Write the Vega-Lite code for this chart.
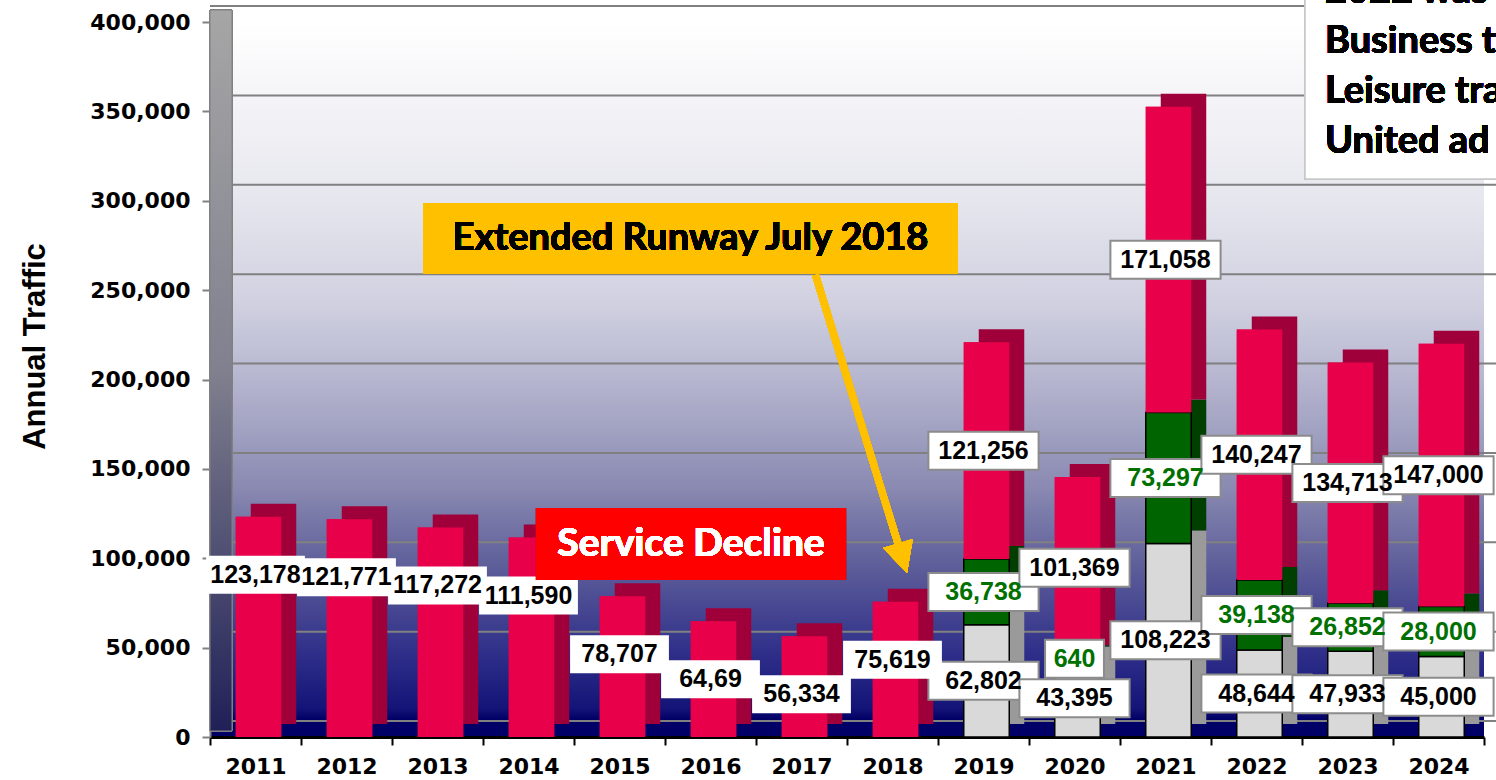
{
  "$schema": "https://vega.github.io/schema/vega-lite/v6.json",
  "width": 1274,
  "height": 715,
  "autosize": {"type": "none"},
  "padding": {"left": 210, "top": 22, "right": 12, "bottom": 43},
  "background": "#ffffff",
  "config": {
    "view": {
      "stroke": null,
      "fill": {
        "gradient": "linear", "x1": 0, "y1": 0, "x2": 0, "y2": 1,
        "stops": [
          {"offset": 0, "color": "#ffffff"},
          {"offset": 0.25, "color": "#e6e6ee"},
          {"offset": 0.4, "color": "#cfcfe0"},
          {"offset": 0.52, "color": "#b0b0cc"},
          {"offset": 0.65, "color": "#8a8ab2"},
          {"offset": 0.76, "color": "#5e5e9a"},
          {"offset": 0.88, "color": "#30308a"},
          {"offset": 0.96, "color": "#141478"},
          {"offset": 0.975, "color": "#000066"},
          {"offset": 1, "color": "#000066"}
        ]
      }
    }
  },
  "datasets": {
    "traffic": [
      {"year": "2011", "segment": "upper", "value": 123178, "label": "123,178"},
      {"year": "2012", "segment": "upper", "value": 121771, "label": "121,771"},
      {"year": "2013", "segment": "upper", "value": 117272, "label": "117,272"},
      {"year": "2014", "segment": "upper", "value": 111590, "label": "111,590"},
      {"year": "2015", "segment": "upper", "value": 78707, "label": "78,707"},
      {"year": "2016", "segment": "upper", "value": 64690, "label": "64,69"},
      {"year": "2017", "segment": "upper", "value": 56334, "label": "56,334"},
      {"year": "2018", "segment": "upper", "value": 75619, "label": "75,619"},
      {"year": "2019", "segment": "lower", "value": 62802, "label": "62,802"},
      {"year": "2019", "segment": "middle", "value": 36738, "label": "36,738"},
      {"year": "2019", "segment": "upper", "value": 121256, "label": "121,256"},
      {"year": "2020", "segment": "lower", "value": 43395, "label": "43,395"},
      {"year": "2020", "segment": "middle", "value": 640, "label": "640"},
      {"year": "2020", "segment": "upper", "value": 101369, "label": "101,369"},
      {"year": "2021", "segment": "lower", "value": 108223, "label": "108,223"},
      {"year": "2021", "segment": "middle", "value": 73297, "label": "73,297"},
      {"year": "2021", "segment": "upper", "value": 171058, "label": "171,058"},
      {"year": "2022", "segment": "lower", "value": 48644, "label": "48,644"},
      {"year": "2022", "segment": "middle", "value": 39138, "label": "39,138"},
      {"year": "2022", "segment": "upper", "value": 140247, "label": "140,247"},
      {"year": "2023", "segment": "lower", "value": 47933, "label": "47,933"},
      {"year": "2023", "segment": "middle", "value": 26852, "label": "26,852"},
      {"year": "2023", "segment": "upper", "value": 134713, "label": "134,713"},
      {"year": "2024", "segment": "lower", "value": 45000, "label": "45,000"},
      {"year": "2024", "segment": "middle", "value": 28000, "label": "28,000"},
      {"year": "2024", "segment": "upper", "value": 147000, "label": "147,000"}
    ],
    "grid": [
      {"tick": 0}, {"tick": 50000}, {"tick": 100000}, {"tick": 150000}, {"tick": 200000},
      {"tick": 250000}, {"tick": 300000}, {"tick": 350000}, {"tick": 400000}
    ]
  },
  "layer": [
    {
      "data": {"name": "traffic"},
      "mark": {"type": "bar", "width": {"band": 0.5}, "xOffset": 3, "stroke": "#000000", "opacity": 1},
      "encoding": {
        "x": {
          "field": "year", "type": "ordinal",
          "scale": {
            "domain": ["2011", "2012", "2013", "2014", "2015", "2016", "2017", "2018", "2019", "2020", "2021", "2022", "2023", "2024"],
            "paddingInner": 0, "paddingOuter": 0
          },
          "axis": {
            "title": null,
            "labelFont": "DejaVu Sans", "labelFontWeight": "bold", "labelFontSize": 22, "labelColor": "#000000",
            "labelPadding": 11, "labelAngle": 0,
            "tickBand": "extent", "tickSize": 8, "tickWidth": 2, "tickColor": "#000000",
            "domainColor": "#000000", "domainWidth": 3, "grid": false
          }
        },
        "y": {
          "field": "value", "type": "quantitative", "stack": "zero",
          "scale": {"domain": [0, 400000], "nice": false},
          "axis": {
            "title": "Annual Traffic",
            "titleFont": "Liberation Sans", "titleFontWeight": "bold", "titleFontSize": 31, "titleColor": "#000000",
            "titlePadding": 38, "titleY": 324,
            "values": [0, 50000, 100000, 150000, 200000, 250000, 300000, 350000, 400000],
            "format": ",d",
            "labelFont": "DejaVu Sans", "labelFontWeight": "bold", "labelFontSize": 22, "labelColor": "#000000",
            "labelPadding": 12,
            "tickSize": 8, "tickWidth": 2, "tickColor": "#808080",
            "domainColor": "#808080", "domainWidth": 2,
            "grid": false
          }
        },
        "color": {
          "field": "segment", "type": "nominal", "legend": null,
          "scale": {"domain": ["lower", "middle", "upper"], "range": ["#d9d9d9", "#006400", "#e8004a"]}
        },
        "order": {"field": "segment", "sort": "ascending"},
        "strokeWidth": {"condition": {"test": "datum.segment === 'upper'", "value": 0}, "value": 1.5}
      }
    },
    {
      "data": {"name": "grid"},
      "mark": {"type": "rule", "stroke": "#808080", "strokeWidth": 2, "xOffset": 22, "x2Offset": 22, "yOffset": -16},
      "encoding": {
        "y": {"field": "tick", "type": "quantitative"}
      }
    },
    {
      "data": {"name": "traffic"},
      "mark": {
        "type": "bar", "width": 22, "xOffset": -34.5, "yOffset": -12, "y2Offset": -6,
        "fill": {
          "gradient": "linear", "x1": 0, "y1": 0, "x2": 0, "y2": 1,
          "stops": [
            {"offset": 0, "color": "#a6a6a6"},
            {"offset": 0.5, "color": "#80808f"},
            {"offset": 1, "color": "#202058"}
          ]
        },
        "stroke": "#808080", "strokeWidth": 1
      },
      "encoding": {
        "x": {"datum": "2011", "type": "ordinal"},
        "y": {"datum": 400000, "type": "quantitative"},
        "y2": {"datum": 0}
      }
    },
    {
      "data": {"name": "traffic"},
      "mark": {"type": "bar", "width": {"band": 0.5}, "xOffset": 18, "yOffset": -13, "y2Offset": -13},
      "encoding": {
        "x": {"field": "year", "type": "ordinal"},
        "y": {"field": "value", "type": "quantitative", "stack": "zero"},
        "fill": {
          "field": "segment", "type": "nominal", "legend": null,
          "scale": {"domain": ["lower", "middle", "upper"], "range": ["#9a9a9a", "#003f00", "#a0003a"]}
        },
        "order": {"field": "segment", "sort": "ascending"}
      }
    },
    {
      "data": {"name": "traffic"},
      "mark": {"type": "bar", "width": {"band": 0.5}, "xOffset": 3, "stroke": "#000000", "opacity": 1},
      "encoding": {
        "x": {"field": "year", "type": "ordinal"},
        "y": {"field": "value", "type": "quantitative", "stack": "zero"},
        "color": {"field": "segment", "type": "nominal", "legend": null},
        "order": {"field": "segment", "sort": "ascending"},
        "strokeWidth": {"condition": {"test": "datum.segment === 'upper'", "value": 0}, "value": 1.5}
      }
    },
    {
      "data": {"name": "traffic"},
      "transform": [
        {"filter": "toNumber(datum.year) >= 2019"},
        {"stack": "value", "groupby": ["year"], "sort": [{"field": "segment", "order": "ascending"}], "as": ["v0", "v1"]},
        {"fold": ["v0", "v1"], "as": ["edge", "pos"]},
        {"aggregate": [{"op": "mean", "field": "pos", "as": "mid"}], "groupby": ["year", "segment", "label"]}
      ],
      "layer": [
        {
          "mark": {"type": "point", "size": 1444, "filled": true, "fill": "#ffffff", "stroke": "#8c8c8c", "strokeWidth": 2, "opacity": 1},
          "encoding": {
            "x": {"field": "year", "type": "ordinal"},
            "y": {"field": "mid", "type": "quantitative"},
            "shape": {"condition": {"test": "length(datum.label) <= 3", "value": "M-1.55,-1H1.55V1H-1.55Z"}, "value": "M-2.9,-1H2.9V1H-2.9Z"}
          }
        },
        {
          "mark": {"type": "text", "font": "Liberation Sans", "fontWeight": "bold", "fontSize": 25, "align": "center", "baseline": "middle"},
          "encoding": {
            "x": {"field": "year", "type": "ordinal"},
            "y": {"field": "mid", "type": "quantitative"},
            "text": {"field": "label"},
            "fill": {"condition": {"test": "datum.segment === 'middle'", "value": "#007000"}, "value": "#000000"}
          }
        }
      ]
    },
    {
      "data": {"name": "traffic"},
      "transform": [{"filter": "toNumber(datum.year) <= 2018"}],
      "layer": [
        {
          "mark": {"type": "point", "shape": "M-2.6,-1H2.6V1H-2.6Z", "size": 1444, "filled": true, "fill": "#ffffff", "strokeWidth": 0, "opacity": 1, "yOffset": 58},
          "encoding": {
            "x": {"field": "year", "type": "ordinal"},
            "y": {"field": "value", "type": "quantitative"}
          }
        },
        {
          "mark": {"type": "text", "font": "Liberation Sans", "fontWeight": "bold", "fontSize": 25, "align": "center", "baseline": "middle", "fill": "#000000", "yOffset": 58},
          "encoding": {
            "x": {"field": "year", "type": "ordinal"},
            "y": {"field": "value", "type": "quantitative"},
            "text": {"field": "label"}
          }
        }
      ]
    },
    {
      "data": {"name": "traffic"},
      "mark": {"type": "rule", "stroke": "#ffc000", "strokeWidth": 7, "xOffset": 14, "x2Offset": 10},
      "encoding": {
        "x": {"datum": "2017", "type": "ordinal"},
        "x2": {"datum": "2018"},
        "y": {"datum": 258462, "type": "quantitative"},
        "y2": {"datum": 100000}
      }
    },
    {
      "data": {"name": "traffic"},
      "mark": {"type": "point", "shape": "M-1,-1L1,-1L0,1Z", "size": 961, "angle": 343, "filled": true, "fill": "#ffc000", "strokeWidth": 0, "opacity": 1, "xOffset": 10},
      "encoding": {
        "x": {"datum": "2018", "type": "ordinal"},
        "y": {"datum": 100000, "type": "quantitative"}
      }
    },
    {
      "data": {"name": "traffic"},
      "mark": {"type": "point", "shape": "M-7.535,-1H7.535V1H-7.535Z", "size": 5041, "filled": true, "fill": "#ffc000", "strokeWidth": 0, "opacity": 1, "xOffset": -20},
      "encoding": {
        "x": {"datum": "2016", "type": "ordinal"},
        "y": {"datum": 278881, "type": "quantitative"}
      }
    },
    {
      "data": {"name": "traffic"},
      "mark": {"type": "text", "text": "Extended Runway July 2018", "font": "Lato", "fontWeight": "bold", "fontSize": 38, "fill": "#000000", "align": "center", "baseline": "middle", "xOffset": -20},
      "encoding": {
        "x": {"datum": "2016", "type": "ordinal"},
        "y": {"datum": 278881, "type": "quantitative"}
      }
    },
    {
      "data": {"name": "traffic"},
      "mark": {"type": "point", "shape": "M-4.306,-1H4.306V1H-4.306Z", "size": 5184, "filled": true, "fill": "#ff0000", "strokeWidth": 0, "opacity": 1, "xOffset": -19.5},
      "encoding": {
        "x": {"datum": "2016", "type": "ordinal"},
        "y": {"datum": 107972, "type": "quantitative"}
      }
    },
    {
      "data": {"name": "traffic"},
      "mark": {"type": "text", "text": "Service Decline", "font": "Lato", "fontWeight": "bold", "fontSize": 39, "fill": "#ffffff", "align": "center", "baseline": "middle", "xOffset": -19.5},
      "encoding": {
        "x": {"datum": "2016", "type": "ordinal"},
        "y": {"datum": 107972, "type": "quantitative"}
      }
    },
    {
      "data": {"name": "traffic"},
      "mark": {"type": "point", "shape": "M-1.0526,-1H1.0526V1H-1.0526Z", "size": 36100, "filled": true, "fill": "#ffffff", "stroke": "#c8c8c8", "strokeWidth": 1.5, "opacity": 1, "xOffset": -33.5},
      "encoding": {
        "x": {"datum": "2024", "type": "ordinal"},
        "y": {"datum": 365315, "type": "quantitative"}
      }
    },
    {
      "data": {"name": "traffic"},
      "mark": {"type": "text", "text": ["2022 was", "Business t", "Leisure tra", "United ad"], "lineHeight": 50, "font": "Lato", "fontWeight": "bold", "fontSize": 38, "fill": "#000000", "align": "left", "baseline": "alphabetic", "xOffset": -113.5},
      "encoding": {
        "x": {"datum": "2024", "type": "ordinal"},
        "y": {"datum": 410629, "type": "quantitative"}
      }
    }
  ]
}
